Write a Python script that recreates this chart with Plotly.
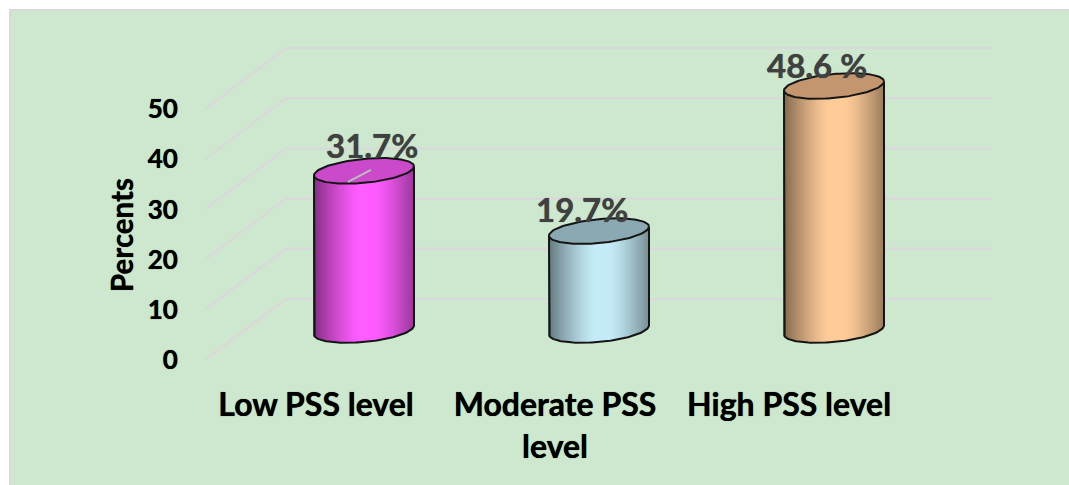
import numpy as np
import plotly.graph_objects as go

categories = ["Low PSS level", "Moderate PSS<br>level", "High PSS level"]
values = [31.7, 19.7, 48.6]
labels = ["31.7%", "19.7%", "48.6 %"]
y_ticks = [0, 10, 20, 30, 40, 50]
body_colors = [(255, 92, 255), (196, 235, 247), (255, 204, 153)]
top_colors = ["#CB49CB", "#8BA9B3", "#C49670"]
label_tick_positions = [-0.204, 0.813, 1.809]

FONT = "Lato"
GREEN = "#CDE8CF"
GRID = "#D9D9D9"
OUTLINE = "#151515"
BLACK_SHADOW = "0 0 0.7px #000000"
GREY_SHADOW = "0 0 0.8px #404040"

W, H = 1069, 485
PX_L, PX_R, PX_T, PX_B = 205, 992, 40, 360
PX_PER_CAT = 235.0
PX_PER_UNIT = 5.02
X0_PX = 364.0

x_range = [(PX_L - X0_PX) / PX_PER_CAT, (PX_R - X0_PX) / PX_PER_CAT]
y_range = [0, (PX_B - PX_T) / PX_PER_UNIT]

DEPTH_X = 81 / PX_PER_CAT
DEPTH_Y = 61 / PX_PER_UNIT
END_X = x_range[1]
FRONT_X = x_range[0]

HALF = 50 / PX_PER_CAT
BASE = 30 / PX_PER_UNIT
TILT = 4.5 / PX_PER_UNIT
RY = 12.0 / PX_PER_UNIT
N = 100


def shade(u):
    t = abs(u - 0.08)
    return 1.0 - 0.48 * np.clip((t - 0.16) / 0.9, 0, 1) ** 1.3


fig = go.Figure()

for i, v in enumerate(values):
    us = (np.arange(N) + 0.5) / N * 2 - 1
    lower = BASE + TILT * us - RY * np.sqrt(1 - us ** 2)
    upper = BASE + v + TILT * us
    c = body_colors[i]
    cols = ["rgb(%d,%d,%d)" % tuple(int(ch * shade(u)) for ch in c) for u in us]
    fig.add_trace(go.Bar(
        x=i + us * HALF, y=upper - lower, base=lower,
        width=[2.6 * HALF / N] * N, marker=dict(color=cols, line=dict(width=0)),
        hoverinfo="skip", showlegend=False))

    # side and bottom outline
    t = np.linspace(np.pi, 0, 80)
    bx = i + HALF * np.cos(t)
    by = BASE + TILT * np.cos(t) - RY * np.sin(t)
    ox = np.concatenate([[i - HALF], bx, [i + HALF]])
    oy = np.concatenate([[BASE + v - TILT], by, [BASE + v + TILT]])
    fig.add_trace(go.Scatter(x=ox, y=oy, mode="lines",
                             line=dict(color=OUTLINE, width=2),
                             hoverinfo="skip", showlegend=False))

    # top ellipse
    t = np.linspace(0, 2 * np.pi, 120)
    ex = i + HALF * np.cos(t)
    ey = BASE + v + TILT * np.cos(t) + RY * np.sin(t)
    fig.add_trace(go.Scatter(x=ex, y=ey, mode="lines", fill="toself",
                             fillcolor=top_colors[i],
                             line=dict(color=OUTLINE, width=2),
                             hoverinfo="skip", showlegend=False))

# leader line of the first label
fig.add_trace(go.Scatter(
    x=[0 - 16 / PX_PER_CAT, 0 + 7 / PX_PER_CAT],
    y=[BASE + values[0] - 2.2, BASE + values[0] + 0.2],
    mode="lines", line=dict(color="#BDBDBD", width=2),
    hoverinfo="skip", showlegend=False))

offsets = [(8, 26), (-17, 22), (-17, 21)]
pw, ph = PX_R - PX_L, PX_B - PX_T
annotations = []
for i, v in enumerate(values):
    annotations.append(dict(
        x=i, y=BASE + v, text=labels[i], showarrow=False,
        xshift=offsets[i][0], yshift=offsets[i][1],
        font=dict(family=FONT, size=33, color="#404040", weight="bold", shadow=GREY_SHADOW)))
annotations.append(dict(
    xref="paper", yref="paper", x=(121 - PX_L) / pw, y=(PX_B - 235) / ph,
    xanchor="center", yanchor="middle",
    text="Percents", textangle=-90, showarrow=False,
    font=dict(family=FONT, size=29.5, color="black", weight="bold", shadow=BLACK_SHADOW)))

shapes = [dict(
    type="rect", xref="paper", yref="paper", layer="below",
    x0=(10 - PX_L) / pw, x1=(W + 5 - PX_L) / pw,
    y0=(PX_B - (H + 5)) / ph, y1=(PX_B - 10) / ph,
    fillcolor=GREEN, line=dict(color=GRID, width=2))]
for v in y_ticks:
    yb = v + DEPTH_Y
    shapes.append(dict(
        type="path", xref="x", yref="y", layer="below",
        path=f"M {FRONT_X} {v} L {FRONT_X + DEPTH_X} {yb} L {END_X} {yb}",
        line=dict(color=GRID, width=2.5)))

fig.update_layout(
    width=W, height=H, autosize=False,
    margin=dict(l=PX_L, r=W - PX_R, t=PX_T, b=H - PX_B, pad=0),
    paper_bgcolor="white", plot_bgcolor="rgba(0,0,0,0)",
    barmode="overlay", showlegend=False,
    shapes=shapes, annotations=annotations,
    xaxis=dict(range=x_range, tickvals=label_tick_positions, ticktext=categories,
               showgrid=False, zeroline=False, showline=False,
               ticks="outside", ticklen=17, tickcolor="rgba(0,0,0,0)",
               tickfont=dict(family=FONT, size=32, color="black", weight="bold", shadow=BLACK_SHADOW)),
    yaxis=dict(range=y_range, tickvals=y_ticks,
               showgrid=False, zeroline=False, showline=False,
               ticks="outside", ticklen=21, tickcolor="rgba(0,0,0,0)",
               tickfont=dict(family=FONT, size=26, color="black", weight="bold", shadow=BLACK_SHADOW)),
)

fig.write_html("out.html", config={"displayModeBar": False},
               post_script="document.body.style.margin='0';")
